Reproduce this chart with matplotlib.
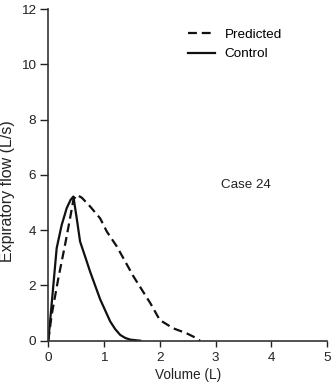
import matplotlib
matplotlib.use("Agg")
import matplotlib.pyplot as plt

plt.rcParams['font.family'] = ['Liberation Sans', 'DejaVu Sans']

control_vol = [0.0, 0.05, 0.15, 0.24, 0.33, 0.40, 0.45, 0.51, 0.57, 0.66, 0.75, 0.84, 0.93, 1.02, 1.11, 1.20, 1.29, 1.38, 1.47, 1.65]
control_flow = [0.0, 1.1, 3.35, 4.19, 4.8, 5.1, 5.22, 4.43, 3.59, 3.05, 2.5, 2.0, 1.5, 1.1, 0.7, 0.42, 0.21, 0.1, 0.04, 0.0]

pred_vol = [0.0, 0.06, 0.18, 0.30, 0.39, 0.45, 0.51, 0.60, 0.75, 0.93, 1.05, 1.23, 1.53, 1.83, 2.0, 2.24, 2.48, 2.66, 2.72]
pred_flow = [0.0, 0.93, 2.26, 3.47, 4.43, 5.1, 5.28, 5.18, 4.86, 4.43, 3.95, 3.41, 2.32, 1.36, 0.75, 0.45, 0.27, 0.09, 0.0]

xticks = [0, 1, 2, 3, 4, 5]
yticks = [0, 2, 4, 6, 8, 10, 12]

fig = plt.figure(figsize=(3.32, 3.85), dpi=100)
ax = fig.add_axes([0.1455, 0.115, 0.8395, 0.861])

ax.plot(pred_vol, pred_flow, color='#111111', lw=1.6, ls=(0, (4, 2.2)), label='Predicted')
ax.plot(control_vol, control_flow, color='#111111', lw=1.6, ls='-', label='Control')

ax.set_xlim(0, 5)
ax.set_ylim(0, 12)
ax.set_xticks(xticks)
ax.set_yticks(yticks)
ax.tick_params(direction='out', width=1, labelsize=9.7, colors='#222222')
ax.tick_params(axis='y', length=6, pad=3)
ax.tick_params(axis='x', length=4, pad=4)
for s in ['top', 'right']:
    ax.spines[s].set_visible(False)
for s in ['left', 'bottom']:
    ax.spines[s].set_color('#333333')
    ax.spines[s].set_linewidth(1.2)
ax.spines['bottom'].set_bounds(0, 5)

ax.set_xlabel('Volume (L)', fontsize=9.8, color='#222222')
ax.xaxis.label.set_verticalalignment('center')
ax.xaxis.set_label_coords((48.3 + 278.7 / 2) / 332, 1 - 375.0 / 385)
ax.xaxis.label.set_transform(fig.transFigure)

ax.set_ylabel('Expiratory flow (L/s)', fontsize=11.5, color='#222222')
ax.yaxis.label.set_verticalalignment('center')
ax.yaxis.set_label_coords(7.5 / 332, 1 - 191.5 / 385)
ax.yaxis.label.set_transform(fig.transFigure)

ax.legend(loc='upper left', bbox_to_anchor=(0.458, 0.978), frameon=False, fontsize=9.7,
          handlelength=2.0, handletextpad=0.7, labelspacing=0.5)
ax.text(0.71, 0.47, 'Case 24', transform=ax.transAxes, ha='center', va='center',
        fontsize=9.6, color='#222222')

fig.savefig('out.png', dpi=100)
